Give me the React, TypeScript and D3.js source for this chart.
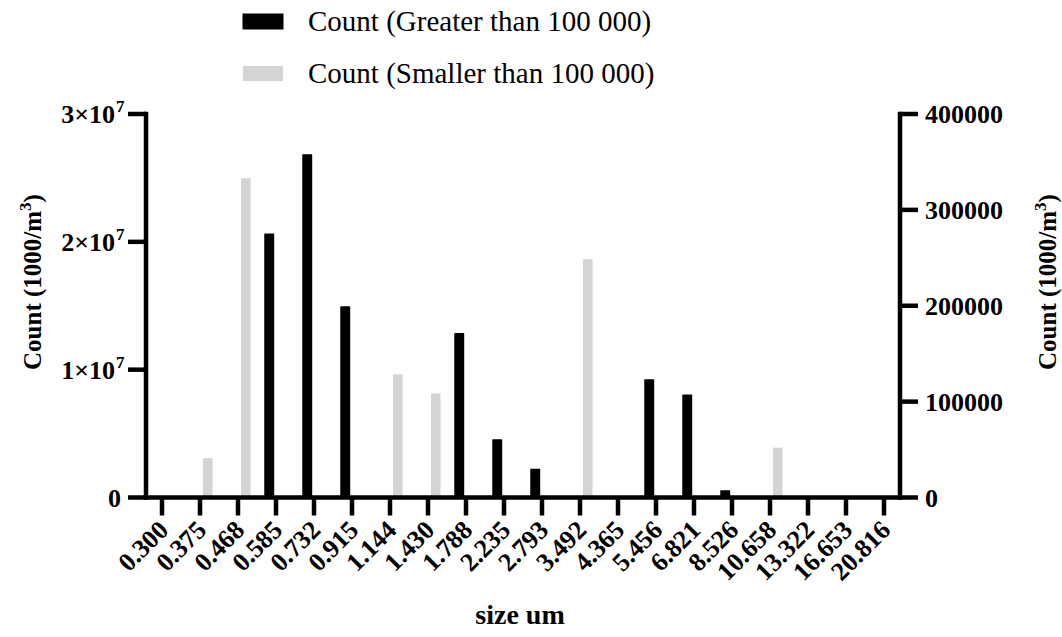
import React from "react";
import * as d3 from "d3";

// particle size bins (um)
const sizes = [
    "0.300", "0.375", "0.468", "0.585", "0.732", "0.915", "1.144", "1.430", "1.788", "2.235",
    "2.793", "3.492", "4.365", "5.456", "6.821", "8.526", "10.658", "13.322", "16.653", "20.816",
];

// left axis series
const greaterCounts = [
    0, 0, 0, 2.06e7, 2.68e7, 1.49e7, 0, 0, 1.28e7, 0.45e7,
    0.22e7, 0, 0, 0.92e7, 0.8e7, 0.05e7, 0, 0, 0, 0,
];

// right axis series
const smallerCounts = [
    0, 41000, 333000, 0, 0, 0, 128500, 108600, 0, 0,
    0, 248600, 0, 0, 0, 0, 52000, 0, 0, 0,
];

const leftTicks = [0, 1e7, 2e7, 3e7];
const rightTicks = [0, 100000, 200000, 300000, 400000];

const seriesNames = ["Count (Greater than 100 000)", "Count (Smaller than 100 000)"];
const seriesColors = ["#000000", "#d4d4d4"];

const FONT = "'Liberation Serif', 'Times New Roman', serif";

const width = 1062;
const height = 637;

const plot = {left: 146, right: 900, top: 114, bottom: 497.5};

const App: React.FC = () => {
    const x = d3.scaleBand<string>()
        .domain(sizes)
        .range([143, 903])
        .padding(0);

    // position of the two bars inside a group
    const xInner = d3.scaleBand<string>()
        .domain(["gt", "lt"])
        .range([-11.5, 12.5])
        .paddingInner(0.35);

    const yLeft = d3.scaleLinear().domain([0, 3e7]).range([plot.bottom, plot.top]);
    const yRight = d3.scaleLinear().domain([0, 400000]).range([plot.bottom, plot.top]);

    const center = (s: string) => x(s)! + x.bandwidth() / 2;

    return (
        <svg width={width} height={height} style={{display: "block", position: "absolute", left: 0, top: 0}}
             fontFamily={FONT}>
            <rect width={width} height={height} fill="#ffffff"/>

            {/* legend */}
            {seriesNames.map((name, i) => (
                <g key={name} transform={`translate(243, ${14 + i * 52})`}>
                    <rect x={0} y={0} width={40} height={15} fill={seriesColors[i]}
                          stroke={i === 0 ? "#000" : "none"} strokeWidth={1}/>
                    <text x={65} y={17} fontSize={29} fill="#000">{name}</text>
                </g>
            ))}

            {/* bars */}
            <g>
                {sizes.map((s, i) => (
                    <g key={s} transform={`translate(${center(s)}, 0)`}>
                        {smallerCounts[i] > 0 &&
                            <rect x={xInner("lt")} width={xInner.bandwidth()}
                                  y={yRight(smallerCounts[i])}
                                  height={plot.bottom - yRight(smallerCounts[i])}
                                  fill={seriesColors[1]}/>}
                        {greaterCounts[i] > 0 &&
                            <rect x={xInner("gt")! + 0.5} width={xInner.bandwidth() - 1}
                                  y={yLeft(greaterCounts[i])}
                                  height={plot.bottom - yLeft(greaterCounts[i])}
                                  fill={seriesColors[0]} stroke="#000" strokeWidth={1.5}
                                  strokeLinejoin="round"/>}
                    </g>
                ))}
            </g>

            {/* axes lines */}
            <g stroke="#000" strokeWidth={4.5} strokeLinecap="square" fill="none">
                <line x1={plot.left} x2={plot.left} y1={plot.top} y2={plot.bottom}/>
                <line x1={plot.right} x2={plot.right} y1={plot.top} y2={plot.bottom}/>
                <line x1={plot.left} x2={plot.right} y1={plot.bottom} y2={plot.bottom}/>
            </g>

            {/* left axis */}
            <g>
                {leftTicks.map(t => (
                    <g key={t} transform={`translate(0, ${yLeft(t)})`}>
                        <line x1={128} x2={plot.left} stroke="#000" strokeWidth={4.5}/>
                        <text x={t === 0 ? 121 : 115} y={9} textAnchor="end" fontSize={26} fontWeight="bold">
                            {t === 0 ? "0" : `${t / 1e7}×10`}
                        </text>
                        {t !== 0 &&
                            <text x={116} y={-2} fontSize={17} fontWeight="bold">7</text>}
                    </g>
                ))}
            </g>

            {/* right axis */}
            <g>
                {rightTicks.map(t => (
                    <g key={t} transform={`translate(0, ${yRight(t)})`}>
                        <line x1={plot.right} x2={918} stroke="#000" strokeWidth={4.5}/>
                        <text x={925} y={9} fontSize={26} fontWeight="bold">{t}</text>
                    </g>
                ))}
            </g>

            {/* x axis ticks */}
            <g>
                {sizes.map(s => (
                    <g key={s} transform={`translate(${center(s)}, ${plot.bottom})`}>
                        <line y1={0} y2={18} stroke="#000" strokeWidth={4.5}/>
                        <text transform="translate(8, 34) rotate(-45)" textAnchor="end" fontSize={26}
                              fontWeight="bold">{s}</text>
                    </g>
                ))}
            </g>

            {/* axis titles */}
            <text x={520} y={624} textAnchor="middle" fontSize={28} fontWeight="bold">size um</text>

            <text transform="translate(41, 282) rotate(-90)" textAnchor="middle" fontSize={25} fontWeight="bold">
                Count (1000/m<tspan dy={-10} fontSize={17}>3</tspan><tspan dy={10}>)</tspan>
            </text>
            <text transform="translate(1056, 282) rotate(-90)" textAnchor="middle" fontSize={25} fontWeight="bold">
                Count (1000/m<tspan dy={-10} fontSize={17}>3</tspan><tspan dy={10}>)</tspan>
            </text>
        </svg>
    );
};

export default App;
